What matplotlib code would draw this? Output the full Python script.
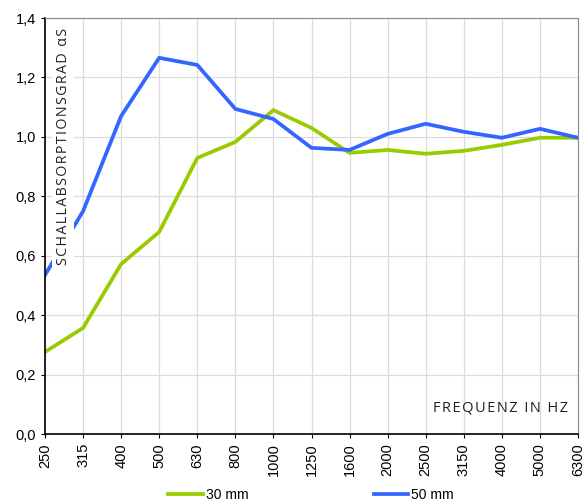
import matplotlib
matplotlib.use('Agg')
import matplotlib.pyplot as plt
import numpy as np

freqs = ['250', '315', '400', '500', '630', '800', '1000', '1250', '1600',
         '2000', '2500', '3150', '4000', '5000', '6300']
mm30 = [0.276, 0.357, 0.572, 0.680, 0.929, 0.983, 1.090, 1.030, 0.946,
        0.956, 0.943, 0.953, 0.973, 0.997, 0.997]
mm50 = [0.535, 0.750, 1.070, 1.266, 1.242, 1.094, 1.060, 0.963, 0.956,
        1.010, 1.044, 1.017, 0.997, 1.027, 0.997]
yticks = [0.0, 0.2, 0.4, 0.6, 0.8, 1.0, 1.2, 1.4]


def spaced(s):
    # little letter spacing, like the original labels
    return '\u200a \u200a'.join('\u200a'.join(w) for w in s.split(' '))


plt.rcParams['font.family'] = ['Liberation Sans', 'DejaVu Sans']

fig = plt.figure(figsize=(5.84, 5.04), dpi=100)
ax = fig.add_axes([45/584, 70/504, 533/584, 416/504])
x = np.arange(len(freqs))

ax.plot(x, mm30, color='#99cc00', lw=2.7, label='30 mm')
ax.plot(x, mm50, color='#3366ff', lw=2.7, label='50 mm')

ax.set_xlim(0, len(freqs) - 1)
ax.set_ylim(0, 1.4)
ax.set_xticks(x)
ax.set_xticklabels(freqs, rotation=90, fontsize=10.5)
ax.set_yticks(yticks)
ax.set_yticklabels([f'{v:.1f}'.replace('.', ',') for v in yticks], fontsize=10.5)
ax.tick_params(length=3, color='black')
ax.grid(True, color='#dcdcdc', lw=0.9)
ax.set_axisbelow(True)
for s in ['top', 'right']:
    ax.spines[s].set_color('#888888')
for s in ['left', 'bottom']:
    ax.spines[s].set_color('black')
    ax.spines[s].set_linewidth(1.2)

ax.text(0.034, 0.977, spaced('SCHALLABSORPTIONSGRAD \u03b1S'),
        transform=ax.transAxes, rotation=90, ha='center', va='top', fontsize=10.3,
        family=['Open Sans', 'DejaVu Sans'], color='#222222', zorder=5,
        bbox=dict(facecolor='white', edgecolor='none', pad=2.5))
ax.text(0.982, 0.045, spaced('FREQUENZ IN HZ'),
        transform=ax.transAxes, ha='right', va='bottom', fontsize=10.5,
        family=['Open Sans', 'DejaVu Sans'], color='#222222', zorder=5)

fig.legend(loc='lower center', bbox_to_anchor=(311/584, -0.02), ncol=2, frameon=False,
           fontsize=10, handlelength=2.5, handletextpad=0.2, columnspacing=9)

fig.savefig('out.png', dpi=100)
